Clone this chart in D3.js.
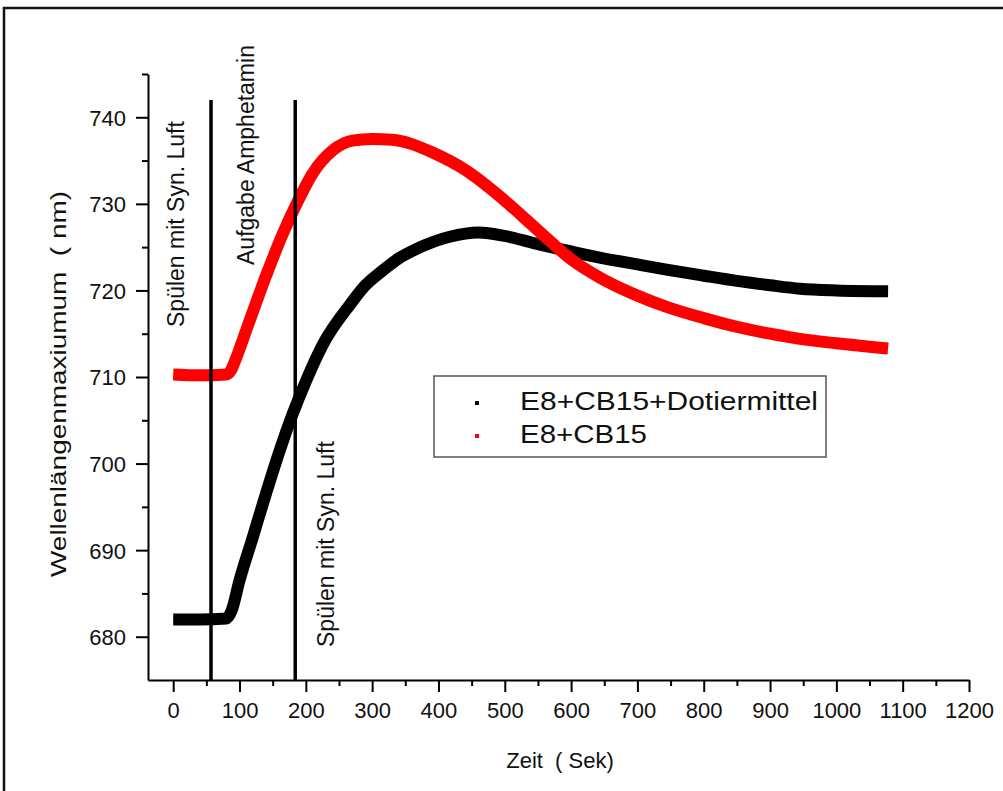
<!DOCTYPE html>
<html>
<head>
<meta charset="utf-8">
<script src="https://cdn.jsdelivr.net/npm/d3@7"></script>
<style>
  html, body { margin: 0; padding: 0; background: #fff; }
  svg { display: block; font-family: "Liberation Sans", Arial, sans-serif; }
</style>
</head>
<body>
<svg id="chart" width="1003" height="791"></svg>
<script>
// ── Data ─────────────────────────────────────────────────────────────────────
// E8+CB15+Dotiermittel (black)
const timeBlack = [0, 40, 80, 88, 100, 120, 141, 161, 180, 200, 226, 267, 290, 316, 340, 367, 417, 460, 500, 542, 600, 643, 700, 744, 800, 850, 900, 945, 1000, 1078];
const valBlack  = [682, 682, 682.1, 683, 686.5, 691.5, 696.8, 701.6, 705.7, 709.5, 713.8, 718.4, 720.6, 722.3, 723.7, 724.8, 726.2, 726.7, 726.3, 725.5, 724.5, 723.8, 723, 722.4, 721.7, 721.1, 720.6, 720.2, 720, 719.9];

// E8+CB15 (red)
const timeRed = [0, 40, 80, 88, 95, 111, 141, 165, 186, 211, 241, 270, 300, 330, 360, 392, 443, 492, 542, 568, 600, 643, 700, 744, 800, 844, 900, 945, 1000, 1078];
const valRed  = [710.3, 710.2, 710.3, 710.9, 712.2, 715.6, 721.9, 726.5, 730, 733.6, 736.2, 737.3, 737.5, 737.4, 736.9, 735.9, 733.8, 730.9, 727.5, 725.7, 723.6, 721.5, 719.4, 718.1, 716.8, 715.9, 715, 714.4, 713.9, 713.3];

// event markers (vertical lines) and their notes
const eventTimes  = [57, 184];
const eventTop    = 742;
const noteLabels  = ['Spülen mit Syn. Luft', 'Aufgabe Amphetamin', 'Spülen mit Syn. Luft'];

const seriesNames = ['E8+CB15+Dotiermittel', 'E8+CB15'];
const xTicks = d3.range(0, 1201, 50);   // major every 100
const yTicks = d3.range(680, 746, 5);   // major every 10

// ── Layout ──────────────────────────────────────────────────────────────────
const svg = d3.select('#chart');

const x = d3.scaleLinear().domain([-38, 1200]).range([148, 969]);
const y = d3.scaleLinear().domain([675, 745]).range([680, 74]);

// outer frame
svg.append('rect')
  .attr('x', 4).attr('y', 8)
  .attr('width', 1010).attr('height', 800)
  .attr('fill', 'none')
  .attr('stroke', '#111')
  .attr('stroke-width', 2.5);

// ── Series ──────────────────────────────────────────────────────────────────
const line = d3.line()
  .x(d => x(d[0]))
  .y(d => y(d[1]))
  .curve(d3.curveMonotoneX);

const series = [
  { pts: d3.zip(timeBlack, valBlack), color: '#000' },
  { pts: d3.zip(timeRed,   valRed),   color: '#f00' }
];

series.forEach(s => {
  svg.append('path')
    .datum(s.pts)
    .attr('d', line)
    .attr('fill', 'none')
    .attr('stroke', s.color)
    .attr('stroke-width', 12)
    .attr('stroke-linejoin', 'round');
});

// ── Event lines ─────────────────────────────────────────────────────────────
eventTimes.forEach(t => {
  svg.append('line')
    .attr('x1', x(t)).attr('x2', x(t))
    .attr('y1', y(eventTop)).attr('y2', y(675))
    .attr('stroke', '#000')
    .attr('stroke-width', 3.5);
});

// rotated notes: [baseline x, start y]
const notePos = [[184, 327], [254, 265], [334, 647]];
noteLabels.forEach((txt, i) => {
  svg.append('text')
    .attr('transform', `translate(${notePos[i][0]},${notePos[i][1]}) rotate(-90)`)
    .attr('font-size', 23)
    .attr('fill', '#111')
    .text(txt);
});

// ── Axes ────────────────────────────────────────────────────────────────────
const xAxis = d3.axisBottom(x)
  .tickValues(xTicks)
  .tickSize(6)
  .tickSizeOuter(0)
  .tickFormat(d => d % 100 === 0 ? d : '');

const gx = svg.append('g')
  .attr('transform', `translate(0,${y(675)})`)
  .call(xAxis);

gx.selectAll('.tick line')
  .attr('y2', d => d % 100 === 0 ? 12 : 6);

gx.selectAll('.tick text')
  .attr('y', 22)
  .attr('dy', 16)
  .attr('font-size', 22)
  .attr('font-family', '"Liberation Sans", Arial, sans-serif')
  .attr('fill', '#111');

const yAxis = d3.axisLeft(y)
  .tickValues(yTicks)
  .tickSize(6)
  .tickSizeOuter(0)
  .tickFormat(d => d % 10 === 0 ? d : '');

const gy = svg.append('g')
  .attr('transform', `translate(${x(-38)},0)`)
  .call(yAxis);

gy.selectAll('.tick line')
  .attr('x2', d => d % 10 === 0 ? -12 : -6);

gy.selectAll('.tick text')
  .attr('x', -22)
  .attr('dy', '0.36em')
  .attr('font-size', 22)
  .attr('font-family', '"Liberation Sans", Arial, sans-serif')
  .attr('fill', '#111');

[gx, gy].forEach(g => {
  g.select('.domain').attr('stroke', '#000').attr('stroke-width', 2);
  g.selectAll('.tick line').attr('stroke', '#000').attr('stroke-width', 2);
});

// axis titles
svg.append('text')
  .attr('x', 560).attr('y', 768)
  .attr('text-anchor', 'middle')
  .attr('font-size', 22)
  .attr('fill', '#111')
  .attr('xml:space', 'preserve')
  .text('Zeit  ( Sek)');

svg.append('text')
  .attr('transform', 'translate(66,384) rotate(-90)')
  .attr('text-anchor', 'middle')
  .attr('font-size', 22)
  .attr('fill', '#111')
  .attr('xml:space', 'preserve')
  .attr('textLength', 386)
  .attr('lengthAdjust', 'spacingAndGlyphs')
  .text('Wellenlängenmaxiumum  ( nm)');

// ── Legend ──────────────────────────────────────────────────────────────────
const legend = svg.append('g');

legend.append('rect')
  .attr('x', 434).attr('y', 376)
  .attr('width', 392).attr('height', 81)
  .attr('fill', '#fff')
  .attr('stroke', '#555')
  .attr('stroke-width', 1.5);

seriesNames.forEach((name, i) => {
  legend.append('rect')
    .attr('x', 475).attr('y', 401 + i * 33)
    .attr('width', 4).attr('height', 4)
    .attr('fill', series[i].color);

  legend.append('text')
    .attr('x', 520).attr('y', 410 + i * 33)
    .attr('font-size', 25)
    .attr('fill', '#111')
    .attr('textLength', i === 0 ? 298 : 127)
    .attr('lengthAdjust', 'spacingAndGlyphs')
    .text(name);
});
</script>
</body>
</html>
